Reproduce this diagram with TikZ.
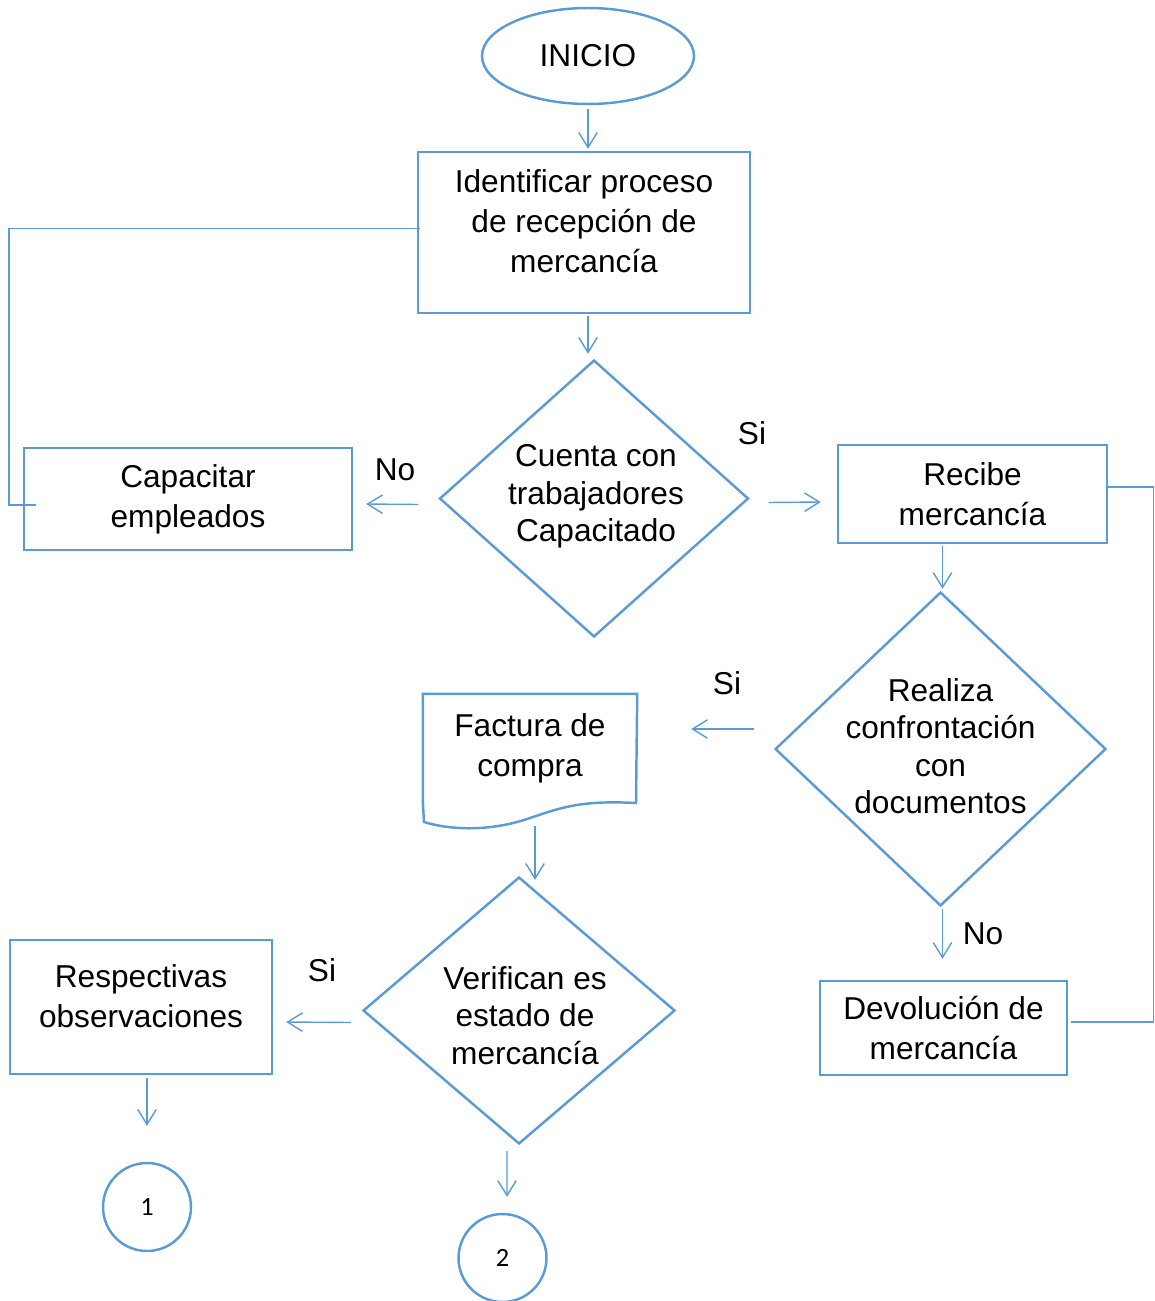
\documentclass[tikz,border=0pt]{standalone}
\usepackage{fontspec}
\setmainfont{Liberation Sans}
\newfontfamily\numfont{Carlito}
\usetikzlibrary{shapes.geometric,arrows.meta,calc}
\definecolor{flowblue}{HTML}{5B9BD5}

\begin{document}
\begin{tikzpicture}[x=0.02cm,y=-0.02cm,
    box/.style={draw=flowblue,line width=1.4pt,rectangle,align=center,inner sep=2pt,
      font=\fontsize{18}{22.7}\selectfont},
    btext/.style={align=center,font=\fontsize{18}{22.7}\selectfont},
    term/.style={draw=flowblue,line width=1.4pt,ellipse,font=\fontsize{18}{22}\selectfont},
    dia/.style={draw=flowblue,line width=1.4pt,diamond,inner sep=0pt},
    dtext/.style={align=center,font=\fontsize{18}{21.3}\selectfont},
    conn/.style={draw=flowblue,line width=1.4pt,circle,minimum size=1.76cm,
      font=\numfont\fontsize{15}{18}\selectfont},
    arr/.style={draw=flowblue,line width=0.8pt,-{Straight Barb[length=8.5pt,width=10.5pt]}},
    link/.style={draw=flowblue,line width=0.8pt},
    lbl/.style={font=\fontsize{18}{22}\selectfont}]
  \useasboundingbox (0,0) rectangle (1155,1301);

  \node[term,minimum width=4.24cm,minimum height=1.92cm] (inicio) at (588,56) {INICIO};
  \node[box,minimum width=6.64cm,minimum height=3.22cm,
    label={[btext,yshift=0.22cm]center:Identificar proceso\\de recepción de\\mercancía}] (ident) at (584,232.5) {};
  \node[dia,minimum width=6.18cm,minimum height=5.54cm,
    label={[dtext,xshift=0.04cm,yshift=0.04cm]center:Cuenta con\\trabajadores\\Capacitado}] (d1) at (594,498.5) {};
  \node[box,minimum width=6.56cm,minimum height=2.04cm] (capac) at (188,499) {Capacitar\\empleados};
  \node[box,minimum width=5.38cm,minimum height=1.96cm] (recibe) at (972.5,494) {Recibe\\mercancía};
  \node[dia,minimum width=6.62cm,minimum height=6.28cm,
    label={[dtext,yshift=0.06cm]center:Realiza\\confrontación\\con\\documentos}] (d2) at (940.5,749) {};
  \node[box,draw=none,minimum width=4.24cm,minimum height=2.12cm] (fac) at (530,748) {Factura de\\compra};
  \draw[flowblue,line width=1.4pt] (fac.south west) -- (fac.north west) -- (fac.north east)
    -- (636,803) .. controls (580,800) and (560,808) .. (530,818)
    .. controls (490,832) and (450,830) .. (424,822) -- cycle;
  \node[dia,minimum width=6.24cm,minimum height=5.34cm,
    label={[dtext,xshift=0.12cm,yshift=-0.1cm]center:Verifican es\\estado de\\mercancía}] (d3) at (519,1010.5) {};
  \node[box,minimum width=5.24cm,minimum height=2.68cm,
    label={[btext,yshift=0.22cm]center:Respectivas\\observaciones}] (resp) at (141,1007) {};
  \node[box,minimum width=4.94cm,minimum height=1.88cm] (devol) at (943.5,1028) {Devolución de\\mercancía};
  \node[conn] (c1) at (147,1207) {1};
  \node[conn] (c2) at (502.5,1258) {2};

  \draw[arr] ($(inicio.south)+(0,4)$) -- ($(inicio.south |- ident.north)+(0,-2)$);
  \draw[arr] ($(ident.south -| d1.north)+(-6,2)$) -- ($(d1.north)+(-6,-5)$);
  \draw[arr] ($(d1.west)+(-20,6)$) -- ($(capac.east)+(13,5)$);
  \draw[arr] ($(d1.east)+(19,4)$) -- ($(recibe.west)+(-16,8)$);
  \draw[arr] ($(recibe.south -| d2.north)+(2,2)$) -- ($(d2.north)+(2,-2)$);
  \draw[arr] ($(d2.west)+(-20,-20)$) -- ($(fac.east)+(54,-19)$);
  \coordinate (facb) at (535,826);
  \draw[arr] (facb) -- ($(facb |- d3.north)+(0,4)$);
  \draw[arr] ($(d3.west)+(-11,12)$) -- ($(resp.east)+(13,15)$);
  \draw[arr] ($(resp.south -| c1.north)+(0,3)$) -- ($(c1.north)+(0,-36)$);
  \draw[arr] ($(d3.south)+(-12,6)$) -- ($(c2.north)+(4.5,-16)$);
  \draw[arr] ($(d2.south)+(2,2)$) -- ($(d2.south |- devol.north)+(2,-21)$);

  \draw[link] ($(ident.west)+(3,-4)$) -| ($(capac.west)+(-14,6)$) -- ($(capac.west)+(13,6)$);
  \draw[link] ($(recibe.east)+(0,-7)$) -| ($(devol.east)+(85,-6)$) -- ($(devol.east)+(3,-6)$);

  \node[lbl] (no1) at (395,470) {No};
  \node[lbl] (si1) at (752,433) {Si};
  \node[lbl] (si2) at (727,683) {Si};
  \node[lbl] (si3) at (322,970) {Si};
  \node[lbl] (no2) at (983,934) {No};
\end{tikzpicture}
\end{document}
